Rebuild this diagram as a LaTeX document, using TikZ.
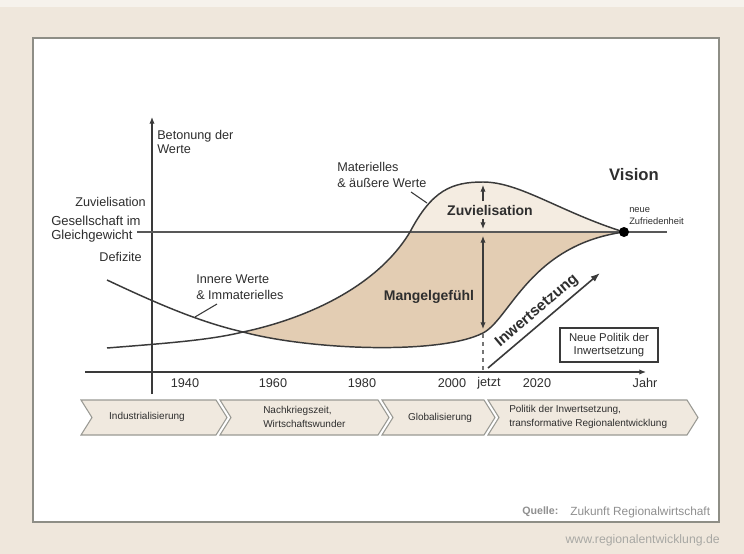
\documentclass[tikz,border=0pt]{standalone}
\usepackage{fontspec}
\setmainfont{Liberation Sans}
\usetikzlibrary{arrows.meta}
\definecolor{bgc}{HTML}{EFE7DC}
\definecolor{topc}{HTML}{F6F2EC}
\definecolor{framec}{HTML}{8E8E86}
\definecolor{tanc}{HTML}{E3CDB3}
\definecolor{lightc}{HTML}{F4ECE1}
\definecolor{chevc}{HTML}{F0E9DF}
\definecolor{chevd}{HTML}{9A9A94}
\definecolor{linec}{HTML}{3A3A3A}
\definecolor{txtc}{HTML}{2E2E2E}
\definecolor{srcc}{HTML}{8F8F8F}
\definecolor{wwwc}{HTML}{A8A8A4}
\tikzset{
  lbl/.style={inner sep=0pt, text=txtc, font=\fontsize{9.5}{11}\selectfont},
  small/.style={inner sep=0pt, text=txtc, font=\fontsize{7.5}{10}\selectfont},
  boldlbl/.style={inner sep=0pt, text=txtc, font=\bfseries\fontsize{10.5}{12}\selectfont},
  curve/.style={draw=linec, line width=1.1pt},
  axisline/.style={draw=linec, line width=0.9pt},
  tipa/.style={-{Latex[length=5pt,width=4pt]}},
  dar/.style={draw=linec, line width=0.8pt},
  chevbox/.style={draw=chevd, fill=chevc, line width=0.8pt},
}
\begin{document}
\begin{tikzpicture}[x=0.75pt,y=-0.75pt]
\useasboundingbox (0,0) rectangle (744,554);
\fill[bgc] (0,0) rectangle (744,554);
\fill[topc] (0,0) rectangle (744,7);
% frame
\draw[framec, line width=1.5pt, fill=white] (33,38) rectangle (719,522);

% fills
\fill[tanc] (243,332) .. controls (300,320) and (375,290) .. (410,232)
  -- (624,232) .. controls (530,245) and (510,319) .. (483,333)
  .. controls (440,355) and (310,350) .. (243,332) -- cycle;
\fill[lightc] (410,232) .. controls (432,190) and (452,182) .. (483,182)
  .. controls (520,182) and (560,212) .. (624,232) -- cycle;

% axes
\coordinate (vb) at (152,394);
\coordinate (vt) at (152,117);
\draw[axisline, tipa] (vb) -- (vt);
\coordinate (hl) at (85,372);
\coordinate (hr) at (646,372);
\draw[axisline, tipa] (hl) -- (hr);

% equilibrium line
\coordinate (el) at (137,232);
\coordinate (er) at (667,232);
\draw[draw=linec!85, line width=1.0pt] (el) -- (er);

% curves
\draw[curve] (107,348) .. controls (170,343) and (210,340) .. (243,332)
  .. controls (300,320) and (375,290) .. (410,232)
  .. controls (432,190) and (452,182) .. (483,182)
  .. controls (520,182) and (560,212) .. (624,232);
\draw[curve] (107,280) .. controls (160,305) and (200,322) .. (243,332)
  .. controls (310,350) and (440,355) .. (483,333)
  .. controls (510,319) and (530,245) .. (624,232);

\node[circle, fill=black, inner sep=0pt, minimum size=7.5pt] (dot) at (624,232) {};

% axis labels
\node[lbl, anchor=west, align=left] (beton) at (157,142) {Betonung der\\Werte};
\node[lbl, anchor=east] (zuv) at (146,202) {Zuvielisation};
\node[lbl, anchor=west, align=left, font=\fontsize{9.8}{10.3}\selectfont] (ges) at (51,229) {Gesellschaft im\\Gleichgewicht};
\node[lbl, anchor=east] (def) at (142,257) {Defizite};

% curve labels
\node[lbl, anchor=west, align=left, font=\fontsize{9.5}{11.8}\selectfont] (inner) at (196,287) {Innere Werte\\\& Immaterielles};
\coordinate (il1) at (217,304);
\coordinate (il2) at (195,317);
\draw[draw=linec, line width=0.8pt] (il1) -- (il2);
\node[lbl, anchor=west, align=left, font=\fontsize{9.5}{11.5}\selectfont] (mat) at (337,175) {Materielles\\\& äußere Werte};
\coordinate (ml1) at (411,192);
\coordinate (ml2) at (427,203);
\draw[draw=linec, line width=0.8pt] (ml1) -- (ml2);

% Zuvielisation arrow
\node[boldlbl] (zv) at (490,210) {Zuvielisation};
\coordinate (z1) at (483,185);
\coordinate (z2) at (483,201);
\coordinate (z3) at (483,219);
\coordinate (z4) at (483,229);
\draw[dar, tipa] (z2) -- (z1);
\draw[dar, tipa] (z3) -- (z4);

% Mangelgefuehl arrow
\node[boldlbl] (mg) at (429,297) {Mangelgefühl};
\coordinate (m1) at (483,236);
\coordinate (m2) at (483,329);
\draw[dar, {Latex[length=5pt,width=4pt]}-{Latex[length=5pt,width=4pt]}] (m1) -- (m2);
\coordinate (d1) at (483,334);
\coordinate (d2) at (483,372);
\draw[draw=linec!70, line width=0.8pt, dashed] (d1) -- (d2);

% Inwertsetzung
\coordinate (i1) at (488,368);
\coordinate (i2) at (600,273);
\draw[draw=linec, line width=1.2pt, -{Latex[length=7pt,width=5pt]}] (i1) -- (i2);
\node[inner sep=0pt, text=txtc, font=\bfseries\fontsize{11.5}{12}\selectfont, rotate=40.3] (inw) at (537,311) {Inwertsetzung};

% box
\node[draw=linec, line width=1pt, inner sep=0pt, minimum width=73.5pt, minimum height=25.5pt, align=center, text=txtc, font=\fontsize{8.5}{10}\selectfont] (np) at (609,345) {Neue Politik der\\Inwertsetzung};

% Vision
\node[inner sep=0pt, text=txtc, font=\bfseries\fontsize{12.5}{14}\selectfont] (vis) at (634,175) {Vision};
\node[inner sep=0pt, anchor=west, align=left, text=txtc, font=\fontsize{7}{8.4}\selectfont] (nz) at (629,216) {neue\\Zufriedenheit};

% years
\node[lbl] (y1) at (185,383) {1940};
\node[lbl] (y2) at (273,383) {1960};
\node[lbl] (y3) at (362,383) {1980};
\node[lbl] (y4) at (452,383) {2000};
\node[lbl] (y5) at (489,383) {jetzt};
\node[lbl] (y6) at (537,383) {2020};
\node[lbl] (y7) at (645,383) {Jahr};

% chevrons
\draw[chevbox] (81,400) -- (216,400) -- (227,417.5) -- (216,435) -- (81,435) -- (92,417.5) -- cycle;
\draw[chevbox] (220,400) -- (378,400) -- (389,417.5) -- (378,435) -- (220,435) -- (231,417.5) -- cycle;
\draw[chevbox] (382,400) -- (484,400) -- (495,417.5) -- (484,435) -- (382,435) -- (393,417.5) -- cycle;
\draw[chevbox] (488,400) -- (687,400) -- (698,417.5) -- (687,435) -- (488,435) -- (499,417.5) -- cycle;
\node[small] (c1) at (147,417) {Industrialisierung};
\node[small, anchor=west, align=left] (c2) at (263,417) {Nachkriegszeit,\\Wirtschaftswunder};
\node[small] (c3) at (440,418) {Globalisierung};
\node[small, anchor=west, align=left] (c4) at (509,417) {Politik der Inwertsetzung,\\transformative Regionalentwicklung};

% source
\node[inner sep=0pt, anchor=west, text=srcc, font=\bfseries\fontsize{8}{9}\selectfont] (q1) at (522,512) {Quelle:};
\node[inner sep=0pt, anchor=west, text=srcc, font=\fontsize{8.9}{9}\selectfont] (q2) at (570,512) {Zukunft Regionalwirtschaft};
\node[inner sep=0pt, anchor=east, text=wwwc, font=\fontsize{9.2}{9}\selectfont] (www) at (720,540) {www.regionalentwicklung.de};
\end{tikzpicture}
\end{document}
